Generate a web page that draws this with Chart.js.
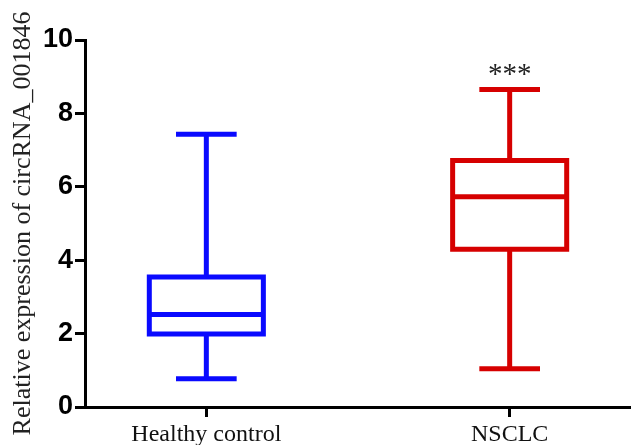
<!DOCTYPE html>
<html lang="en">
<head>
  <meta charset="UTF-8" />
  <title>circRNA_001846 expression</title>
  <script src="https://cdn.jsdelivr.net/npm/chart.js"></script>
  <style>
    html, body {
      margin: 0;
      padding: 0;
      background: #fff;
      overflow: hidden;
    }
    .wrap {
      width: 631px;
      height: 445px;
    }
  </style>
</head>
<body>
<div class="wrap">
  <canvas id="myChart" width="631" height="445"></canvas>
</div>

<script>
  // data
  const groups = ['Healthy control', 'NSCLC'];
  const colors = ['#0a0aff', '#d60000'];
  const mins    = [0.77, 1.04];
  const q1s     = [1.99, 4.30];
  const medians = [2.52, 5.73];
  const q3s     = [3.54, 6.72];
  const maxs    = [7.43, 8.65];
  const marks   = ['', '***'];
  const markAt  = [0, 9.15];
  const yTicks  = [0, 2, 4, 6, 8, 10];

  const boxHalf = 0.188;
  const capHalf = 0.1;
  const lw = 5;

  function line(pts, color) {
    return {
      data: pts,
      showLine: true,
      borderColor: color,
      borderWidth: lw,
      borderCapStyle: 'butt',
      borderJoinStyle: 'miter',
      pointRadius: 0,
      pointHoverRadius: 0,
      fill: false,
      tension: 0
    };
  }

  const datasets = [];
  groups.forEach((g, i) => {
    const c = colors[i];
    // box
    datasets.push(line([
      {x: i - boxHalf, y: q1s[i]}, {x: i + boxHalf, y: q1s[i]},
      {x: i + boxHalf, y: q3s[i]}, {x: i - boxHalf, y: q3s[i]},
      {x: i - boxHalf, y: q1s[i]}, {x: i + boxHalf, y: q1s[i]}
    ], c));
    // median
    datasets.push(line([{x: i - boxHalf, y: medians[i]}, {x: i + boxHalf, y: medians[i]}], c));
    // whiskers
    datasets.push(line([{x: i, y: q3s[i]}, {x: i, y: maxs[i]}], c));
    datasets.push(line([{x: i, y: q1s[i]}, {x: i, y: mins[i]}], c));
    // caps
    datasets.push(line([{x: i - capHalf, y: maxs[i]}, {x: i + capHalf, y: maxs[i]}], c));
    datasets.push(line([{x: i - capHalf, y: mins[i]}, {x: i + capHalf, y: mins[i]}], c));
  });

  const starPlugin = {
    id: 'stars',
    afterDatasetsDraw(chart) {
      const ctx = chart.ctx;
      const xs = chart.scales.x, ys = chart.scales.y;
      ctx.save();
      ctx.fillStyle = '#222';
      ctx.font = '29px "Liberation Serif", "Times New Roman", serif';
      ctx.textAlign = 'center';
      ctx.textBaseline = 'middle';
      marks.forEach((m, i) => {
        if (!m) return;
        ctx.fillText(m, xs.getPixelForValue(i), ys.getPixelForValue(markAt[i]) + 4);
      });
      ctx.restore();
    }
  };

  const ctx = document.getElementById('myChart').getContext('2d');
  new Chart(ctx, {
    type: 'scatter',
    data: { datasets },
    options: {
      responsive: false,
      animation: false,
      layout: { padding: { top: 40, right: 0, left: 0, bottom: 0 } },
      plugins: {
        legend: { display: false },
        tooltip: { enabled: false }
      },
      scales: {
        x: {
          type: 'linear',
          min: -0.4,
          max: 1.4,
          afterBuildTicks: s => { s.ticks = groups.map((g, i) => ({ value: i })); },
          afterFit: s => { s.height = 38; },
          ticks: {
            callback: v => groups[v],
            color: '#111',
            font: { family: '"Liberation Serif", "Times New Roman", serif', size: 24 },
            padding: 3,
            maxRotation: 0,
            autoSkip: false
          },
          grid: {
            drawOnChartArea: false,
            drawTicks: true,
            tickLength: 10,
            tickWidth: 3,
            color: '#000'
          },
          border: { display: true, color: '#000', width: 3 }
        },
        y: {
          min: 0,
          max: 10,
          afterBuildTicks: s => { s.ticks = yTicks.map(v => ({ value: v })); },
          afterFit: s => { s.width = 85; },
          ticks: {
            color: '#000',
            font: { family: '"Liberation Sans", Arial, sans-serif', size: 27, weight: 'bold' },
            padding: 2
          },
          title: {
            display: true,
            text: 'Relative expression of circRNA_001846',
            color: '#222',
            font: { family: '"Liberation Serif", "Times New Roman", serif', size: 26 },
            padding: { top: 8, bottom: 0 }
          },
          grid: {
            drawOnChartArea: false,
            drawTicks: true,
            tickLength: 10,
            tickWidth: 3,
            color: '#000'
          },
          border: { display: true, color: '#000', width: 3 }
        }
      }
    },
    plugins: [starPlugin]
  });
</script>
</body>
</html>
